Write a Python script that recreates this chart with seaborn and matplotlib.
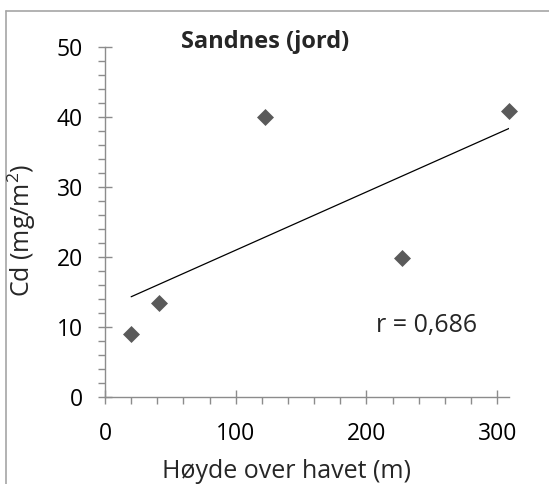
import matplotlib
matplotlib.use("Agg")
import matplotlib.pyplot as plt
from matplotlib.ticker import MultipleLocator
import seaborn as sns
import pandas as pd

hoyde = [20, 41, 122, 227, 309]
cd = [9.0, 13.4, 40.0, 19.8, 40.9]
title = "Sandnes (jord)"
xlabel = "Høyde over havet (m)"
ylabel = "Cd (mg/m$^2$)"
r_text = "r = 0,686"

sns.set_style("white")
plt.rcParams['font.family'] = ['Open Sans', 'DejaVu Sans']
plt.rcParams['mathtext.fontset'] = 'custom'
plt.rcParams['mathtext.rm'] = 'Open Sans'

df = pd.DataFrame({"x": hoyde, "y": cd})

W, H = 549, 484
fig = plt.figure(figsize=(W/100, H/100), dpi=100)
ax = fig.add_axes([105/W, 1-397/H, (509-105)/W, (397-47)/H])

sns.regplot(data=df, x="x", y="y", scatter=False, ci=None, ax=ax,
            line_kws=dict(color="black", lw=0.9))
sns.scatterplot(data=df, x="x", y="y", marker="D", s=75, color="#5a5a5a",
                edgecolor="#5a5a5a", linewidth=0, ax=ax, zorder=3, clip_on=False)

ax.set_xlim(0, 309)
ax.set_ylim(0, 50)
ax.xaxis.set_major_locator(MultipleLocator(100))
ax.xaxis.set_minor_locator(MultipleLocator(20))
ax.yaxis.set_major_locator(MultipleLocator(10))
ax.yaxis.set_minor_locator(MultipleLocator(2))

gray = "#8c8c8c"
for s in ["top", "right"]:
    ax.spines[s].set_visible(False)
for s in ["left", "bottom"]:
    ax.spines[s].set_color(gray)
    ax.spines[s].set_linewidth(1.0)

ax.tick_params(which="major", direction="inout", length=10, width=1.0,
               color=gray, labelsize=16.5, labelcolor="black")
ax.tick_params(which="minor", direction="out", length=5, width=1.0, color=gray)
ax.tick_params(axis="x", which="major", pad=13)
ax.tick_params(axis="y", which="major", pad=11)
ax.tick_params(axis="y", which="both", left=True)
ax.tick_params(axis="x", which="both", bottom=True)

ax.set_xlabel("")
ax.set_ylabel("")
fig.text(287/W, 1-478/H, xlabel, ha="center", va="baseline", fontsize=18)
fig.text(22/W, 1-230/H, ylabel, ha="center", va="center", rotation=90, fontsize=18)

fig.text(265/W, 1-48/H, title, ha="center", va="baseline",
         fontsize=17, fontweight="bold")
fig.text(427/W, 1-332/H, r_text, ha="center", va="baseline", fontsize=18)

# figure frame (top and left)
fig.add_artist(plt.Line2D([6/W, 1], [1-11/H, 1-11/H], color="#a6a6a6", lw=1.2,
                          transform=fig.transFigure))
fig.add_artist(plt.Line2D([6/W, 6/W], [0, 1-11/H], color="#a6a6a6", lw=1.2,
                          transform=fig.transFigure))

fig.savefig("out.png", dpi=100)
